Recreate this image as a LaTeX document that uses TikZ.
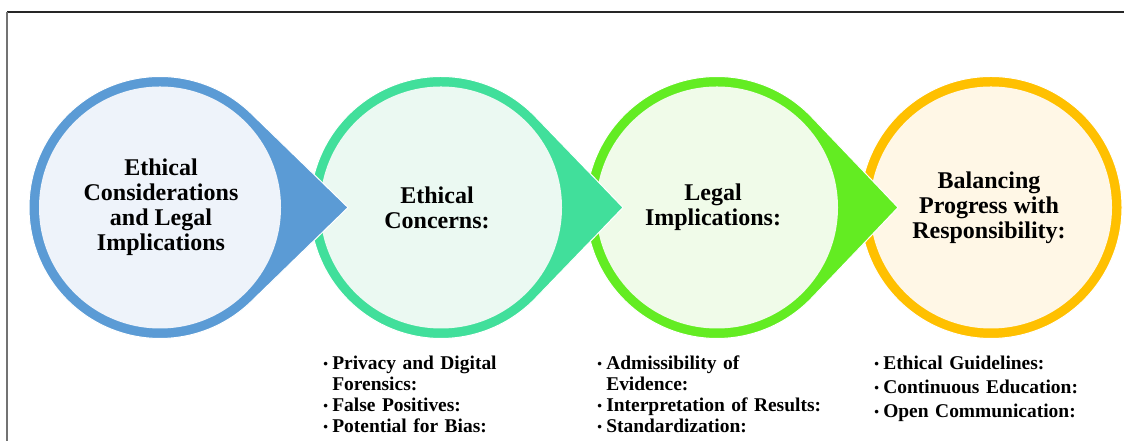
\documentclass[tikz,border=0pt]{standalone}
\usepackage{fontspec}
\setmainfont{Liberation Serif}

\definecolor{ringA}{HTML}{5B9BD5}
\definecolor{fillA}{HTML}{EEF3FA}
\definecolor{ringB}{HTML}{41DF9B}
\definecolor{fillB}{HTML}{EBF9F2}
\definecolor{ringC}{HTML}{63EC22}
\definecolor{fillC}{HTML}{F0FBE9}
\definecolor{ringD}{HTML}{FFC000}
\definecolor{fillD}{HTML}{FFF7E6}

% circle with a pointed tip on its right:
% #1 centre x, #2 tip x, #3 ring colour, #4 inner colour, #5 name
\newcommand\teardrop[5]{%
  \pgfmathsetmacro\tdang{acos(131/(#2-#1))}%
  \coordinate (#5) at (#1,233.5);
  \coordinate (#5tip) at (#2,233.5);
  \filldraw[fill=#3, draw=white, line width=0.75pt]
    (#5) ++(\tdang:131) arc[start angle=\tdang, end angle=360-\tdang, radius=131]
    -- (#5tip) -- cycle;
  \fill[#4] (#5) circle[radius=121];
}
% small bullet followed by a fixed gap; \cont indents wrapped lines to match
\newcommand\itm{\makebox[6.75pt][l]{\raisebox{1.3pt}{\fontsize{10}{10}\selectfont •}}}
\newcommand\cont{\hspace*{6.75pt}}

\begin{document}
\begin{tikzpicture}[x=0.75pt, y=0.75pt,
  title/.style={font=\bfseries\fontsize{18}{18.75}\selectfont, align=center, inner sep=0pt},
  listbox/.style={font=\bfseries\fontsize{14.6}{15.75}\selectfont, align=left,
    text width=250pt, inner sep=0pt, anchor=base west},
  listwide/.style={listbox, font=\bfseries\fontsize{14.6}{18}\selectfont}]
\useasboundingbox (0,0) rectangle (1124,441);

% frame
\draw[black!85, line width=0.8pt] (7,429) -- (1124,429);
\draw[black!55, line width=1.2pt] (7,429) -- (7,0);

% last circle first so each pointed tip lies over the next circle
\coordinate (c4) at (991,233.5);
\filldraw[fill=ringD, draw=white, line width=0.75pt] (c4) circle[radius=131];
\fill[fillD] (c4) circle[radius=121];
\teardrop{717}{898}{ringC}{fillC}{c3}
\teardrop{441}{623}{ringB}{fillB}{c2}
\teardrop{160}{348}{ringA}{fillA}{c1}

% headings
\node[title] (t1) at (161,233.5) {Ethical\\Considerations\\and Legal\\Implications};
\node[title] (t2) at (437,233.5) {Ethical\\Concerns:};
\node[title] (t3) at (713,233.5) {Legal\\Implications:};
\node[title] (t4) at (989,233.5) {Balancing\\Progress with\\Responsibility:};

% bullet lists
\node[listbox] (l2) at (323,71) {\itm Privacy and Digital\\\cont Forensics:\\\itm False Positives:\\\itm Potential for Bias:};
\node[listbox] (l3) at (597,71) {\itm Admissibility of\\\cont Evidence:\\\itm Interpretation of Results:\\\itm Standardization:};
\node[listwide] (l4) at (874,71) {\itm Ethical Guidelines:\\\itm Continuous Education:\\\itm Open Communication:};
\end{tikzpicture}
\end{document}
